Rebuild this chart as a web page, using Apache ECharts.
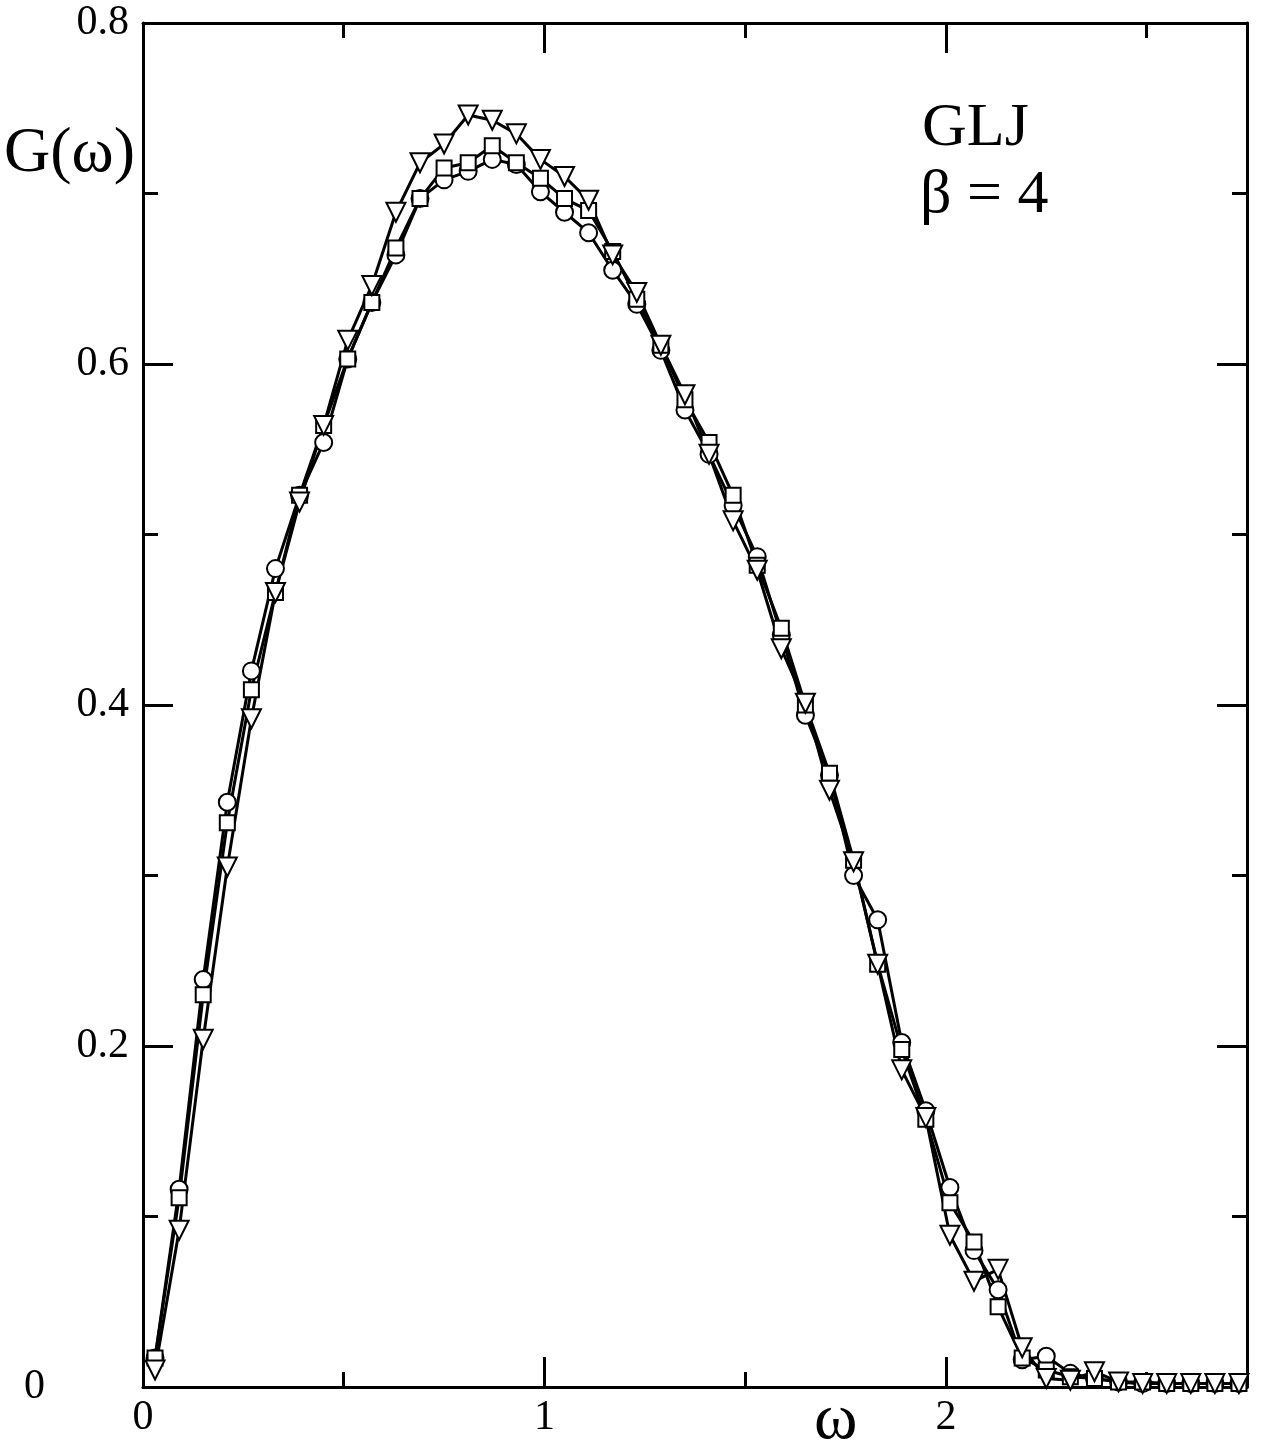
<!DOCTYPE html>
<html>
<head>
<meta charset="utf-8">
<script src="https://cdn.jsdelivr.net/npm/echarts@6/dist/echarts.min.js"></script>
<style>
  html, body { margin: 0; padding: 0; background: #fff; }
  #chart { width: 1263px; height: 1449px; }
</style>
</head>
<body>
<div id="chart"></div>
<script>
// omega grid of the three data sets
const omega = [0.03, 0.09, 0.15, 0.21, 0.27, 0.33, 0.39, 0.45, 0.51, 0.57,
               0.63, 0.69, 0.75, 0.81, 0.87, 0.93, 0.99, 1.05, 1.11, 1.17,
               1.23, 1.29, 1.35, 1.41, 1.47, 1.53, 1.59, 1.65, 1.71, 1.77,
               1.83, 1.89, 1.95, 2.01, 2.07, 2.13, 2.19, 2.25, 2.31, 2.37,
               2.43, 2.49, 2.55, 2.61, 2.67, 2.73];

const gCircle = [0.017, 0.116, 0.239, 0.343, 0.420, 0.480, 0.523, 0.554, 0.603, 0.636,
                 0.664, 0.697, 0.708, 0.713, 0.720, 0.717, 0.701, 0.689, 0.677, 0.655,
                 0.635, 0.608, 0.573, 0.547, 0.517, 0.487, 0.441, 0.394, 0.359, 0.300,
                 0.274, 0.202, 0.162, 0.117, 0.080, 0.057, 0.016, 0.018, 0.008, 0.005,
                 0.003, 0.002, 0.002, 0.002, 0.002, 0.002];

const gSquare = [0.017, 0.111, 0.230, 0.331, 0.409, 0.466, 0.523, 0.564, 0.603, 0.636,
                 0.668, 0.697, 0.715, 0.718, 0.728, 0.718, 0.709, 0.697, 0.690, 0.666,
                 0.638, 0.611, 0.579, 0.554, 0.523, 0.482, 0.445, 0.400, 0.360, 0.309,
                 0.248, 0.198, 0.157, 0.108, 0.085, 0.047, 0.017, 0.010, 0.006, 0.005,
                 0.003, 0.003, 0.002, 0.002, 0.002, 0.002];

const gTriangle = [0.010, 0.092, 0.204, 0.305, 0.392, 0.466, 0.519, 0.564, 0.614, 0.646,
                   0.689, 0.718, 0.729, 0.746, 0.743, 0.735, 0.720, 0.710, 0.696, 0.664,
                   0.642, 0.611, 0.582, 0.547, 0.508, 0.479, 0.433, 0.401, 0.350, 0.308,
                   0.248, 0.186, 0.158, 0.089, 0.062, 0.069, 0.023, 0.005, 0.004, 0.009,
                   0.003, 0.002, 0.002, 0.002, 0.002, 0.002];

// ticks
const xMajor = [0, 1, 2];
const xMinor = [0.5, 1.5, 2.5];
const yLabels = [0, 0.2, 0.4, 0.6, 0.8];

const serif = '"Liberation Serif", "DejaVu Serif", serif';
const black = '#000';

const chart = echarts.init(document.getElementById('chart'));

function xAxisDef(pos, values, len, withLabels, withLine) {
    return {
        type: 'value', min: 0, max: 2.75, position: pos,
        axisLine: { show: withLine, onZero: false, lineStyle: { color: black, width: 3 } },
        axisTick: { show: true, inside: true, length: len, customValues: values,
                    lineStyle: { color: black, width: 3 } },
        axisLabel: withLabels ? {
            show: true, customValues: values, margin: 10,
            color: black, fontFamily: serif, fontSize: 42
        } : { show: false },
        splitLine: { show: false }
    };
}

function yAxisDef(pos, withLabels) {
    return {
        type: 'value', min: 0, max: 0.8, interval: 0.2, position: pos,
        axisLine: { show: true, onZero: false, lineStyle: { color: black, width: 3 } },
        axisTick: { show: true, inside: true, length: 30, lineStyle: { color: black, width: 3 } },
        minorTick: { show: true, splitNumber: 2, length: 15, lineStyle: { color: black, width: 3 } },
        axisLabel: withLabels ? {
            show: true, margin: 14, color: black, fontFamily: serif, fontSize: 42,
            customValues: yLabels,
            formatter: function (v) { return v === 0 ? '{z|0}' : v.toFixed(1); },
            rich: { z: { fontFamily: serif, fontSize: 42, color: black, padding: [0, 84, 0, 0] } }
        } : { show: false },
        splitLine: { show: false },
        minorSplitLine: { show: false }
    };
}

function seriesDef(name, values, symbol, size, rotate) {
    return {
        name: name, type: 'line',
        data: omega.map((w, i) => [w, values[i]]),
        symbol: symbol, symbolSize: size, symbolRotate: rotate || 0,
        showAllSymbol: true,
        lineStyle: { color: black, width: 3 },
        itemStyle: { color: black, borderColor: black, borderWidth: 2.5 }
    };
}

const option = {
    animation: false,
    backgroundColor: '#fff',
    grid: { left: 143, right: 16, top: 23, bottom: 62, containLabel: false },
    xAxis: [
        xAxisDef('bottom', xMajor, 30, true, true),
        xAxisDef('bottom', xMinor, 15, false, false),
        xAxisDef('top', xMajor, 30, false, true),
        xAxisDef('top', xMinor, 15, false, false)
    ],
    yAxis: [
        yAxisDef('left', true),
        yAxisDef('right', false)
    ],
    series: [
        seriesDef('circle', gCircle, 'emptyCircle', 17),
        seriesDef('square', gSquare, 'emptyRect', 15),
        seriesDef('triangle', gTriangle, 'emptyTriangle', 19, 180)
    ],
    graphic: [
        { type: 'text', left: 4, top: 122,
          style: { text: 'G(ω)', font: '64px ' + serif, fill: black } },
        { type: 'text', left: 814, top: 1388,
          style: { text: 'ω', font: '66px ' + serif, fill: black } },
        { type: 'text', left: 922, top: 98,
          style: { text: 'GLJ', font: '62px ' + serif, fill: black } },
        { type: 'text', left: 920, top: 165,
          style: { text: 'β = 4', font: '62px ' + serif, fill: black } }
    ]
};

chart.setOption(option);
chart.resize();
</script>
</body>
</html>
